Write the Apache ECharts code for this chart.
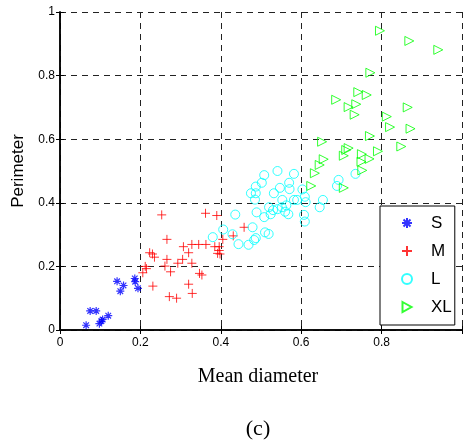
<!DOCTYPE html>
<html>
<head>
<meta charset="utf-8">
<script src="https://cdn.jsdelivr.net/npm/echarts@6/dist/echarts.min.js"></script>
<style>
  html, body { margin: 0; padding: 0; background: #fff; }
  #chart { width: 463px; height: 440px; }
</style>
</head>
<body>
<div id="chart"></div>
<script>
// [mean diameter, perimeter]
const sData = [
  [0.065, 0.015], [0.075, 0.06], [0.09, 0.06], [0.098, 0.02], [0.103, 0.028],
  [0.106, 0.033], [0.12, 0.045], [0.142, 0.153], [0.15, 0.122], [0.158, 0.14],
  [0.186, 0.162], [0.187, 0.152], [0.194, 0.131]
];
const mData = [
  [0.206, 0.18], [0.212, 0.2], [0.215, 0.193], [0.223, 0.243], [0.23, 0.239],
  [0.235, 0.229], [0.231, 0.138], [0.253, 0.362], [0.261, 0.201], [0.266, 0.285],
  [0.266, 0.222], [0.272, 0.105], [0.275, 0.183], [0.29, 0.1], [0.293, 0.21],
  [0.305, 0.222], [0.307, 0.262], [0.32, 0.243], [0.32, 0.144], [0.328, 0.21],
  [0.328, 0.269], [0.329, 0.115], [0.345, 0.269], [0.347, 0.178], [0.353, 0.173],
  [0.362, 0.367], [0.363, 0.269], [0.385, 0.262], [0.39, 0.36], [0.392, 0.241],
  [0.396, 0.262], [0.398, 0.239], [0.396, 0.25], [0.405, 0.285], [0.431, 0.296],
  [0.458, 0.323]
];
const lData = [
  [0.38, 0.292], [0.406, 0.316], [0.429, 0.301], [0.436, 0.363], [0.444, 0.27],
  [0.469, 0.268], [0.475, 0.43], [0.479, 0.323], [0.483, 0.283], [0.487, 0.289],
  [0.485, 0.41], [0.487, 0.43], [0.487, 0.451], [0.489, 0.37], [0.502, 0.463],
  [0.508, 0.487], [0.508, 0.355], [0.51, 0.307], [0.519, 0.302], [0.52, 0.386],
  [0.524, 0.364], [0.53, 0.377], [0.532, 0.43], [0.541, 0.5], [0.541, 0.38],
  [0.547, 0.447], [0.552, 0.386], [0.553, 0.409], [0.563, 0.392], [0.56, 0.372],
  [0.568, 0.364], [0.57, 0.463], [0.571, 0.443], [0.582, 0.491], [0.582, 0.409],
  [0.59, 0.409], [0.603, 0.442], [0.607, 0.362], [0.609, 0.419], [0.611, 0.402],
  [0.609, 0.341], [0.646, 0.386], [0.654, 0.409], [0.689, 0.453], [0.693, 0.472],
  [0.735, 0.491]
];
const xlData = [
  [0.625, 0.453], [0.634, 0.493], [0.646, 0.519], [0.656, 0.537], [0.652, 0.592],
  [0.687, 0.724], [0.706, 0.447], [0.706, 0.548], [0.712, 0.566], [0.718, 0.572],
  [0.718, 0.701], [0.733, 0.677], [0.737, 0.71], [0.742, 0.748], [0.751, 0.553],
  [0.75, 0.529], [0.752, 0.502], [0.763, 0.739], [0.77, 0.538], [0.771, 0.61],
  [0.772, 0.809], [0.791, 0.562], [0.796, 0.941], [0.813, 0.671], [0.821, 0.638],
  [0.849, 0.577], [0.865, 0.7], [0.869, 0.909], [0.872, 0.633], [0.941, 0.881]
];
const classNames = ["S", "M", "L", "XL"];

const starPath = "path://M5,0L5,10M0,5L10,5M1.5,1.5L8.5,8.5M1.5,8.5L8.5,1.5";
const plusPath = "path://M5,0L5,10M0,5L10,5";
const triPath = "path://M1,0L10,5L1,10Z";

const gridLine = {
  show: true,
  lineStyle: { color: "#222", width: 1, type: [6, 5] },
};
const tickLabel = { color: "#000", fontSize: 12, fontFamily: "Liberation Sans, Arial, sans-serif" };
const boxAxis = {
  type: "value", min: 0, max: 1, interval: 0.2,
  axisLine: { show: true, lineStyle: { color: "#000", width: 1.5 } },
  axisTick: { show: true, inside: true, length: 4, lineStyle: { color: "#000" } },
  axisLabel: { show: false },
  splitLine: { show: false },
};

const chart = echarts.init(document.getElementById("chart"));
const option = {
  animation: false,
  backgroundColor: "#fff",
  grid: { left: 60, right: 1, top: 12, bottom: 110, containLabel: false, outerBoundsMode: "none" },
  title: [
    {
      text: "Mean diameter",
      left: 253, top: 362, textAlign: "center",
      textStyle: { fontFamily: "Liberation Serif, Times New Roman, serif", fontSize: 20, fontWeight: "normal", color: "#000" },
    },
    {
      text: "(c)",
      left: 253, top: 413, textAlign: "center",
      textStyle: { fontFamily: "Liberation Serif, Times New Roman, serif", fontSize: 22, fontWeight: "normal", color: "#000" },
    },
  ],
  legend: {
    data: classNames,
    orient: "vertical",
    left: 380, top: 206,
    padding: [7, 3, 8, 21],
    itemWidth: 10, itemHeight: 10, itemGap: 8,
    borderColor: "#000", borderWidth: 1, borderRadius: 0,
    backgroundColor: "#fff",
    textStyle: {
      fontSize: 17, lineHeight: 20, padding: [0, 0, 0, 14],
      color: "#000", fontFamily: "Liberation Sans, Arial, sans-serif",
    },
  },
  xAxis: [
    {
      type: "value", min: 0, max: 1, interval: 0.2,
      axisLine: { show: true, onZero: false, lineStyle: { color: "#000", width: 1.5 } },
      axisTick: { show: true, inside: true, length: 4, lineStyle: { color: "#000" } },
      axisLabel: Object.assign({ margin: 7, formatter: v => (v === 1 ? "" : String(v)) }, tickLabel),
      splitLine: gridLine,
    },
    Object.assign({ position: "top" }, boxAxis),
  ],
  yAxis: [
    {
      type: "value", min: 0, max: 1, interval: 0.2,
      name: "Perimeter", nameLocation: "middle", nameGap: 33,
      nameTextStyle: { fontSize: 17, color: "#000", fontFamily: "Liberation Sans, Arial, sans-serif" },
      axisLine: { show: true, onZero: false, lineStyle: { color: "#000", width: 1.5 } },
      axisTick: { show: true, inside: true, length: 4, lineStyle: { color: "#000" } },
      axisLabel: Object.assign({ margin: 5 }, tickLabel),
      splitLine: gridLine,
    },
    Object.assign({ position: "right" }, boxAxis),
  ],
  series: [
    {
      name: "S", type: "scatter", data: sData,
      symbol: starPath, symbolSize: 8,
      itemStyle: { color: "#0000ff", borderColor: "#0000ff", borderWidth: 1.2 },
    },
    {
      name: "M", type: "scatter", data: mData,
      symbol: plusPath, symbolSize: 9,
      itemStyle: { color: "#ff0000", borderColor: "#ff0000", borderWidth: 1 },
    },
    {
      name: "L", type: "scatter", data: lData,
      symbol: "circle", symbolSize: 9,
      itemStyle: { color: "rgba(0,0,0,0)", borderColor: "#00ffff", borderWidth: 1 },
    },
    {
      name: "XL", type: "scatter", data: xlData,
      symbol: triPath, symbolSize: 9,
      itemStyle: { color: "rgba(0,0,0,0)", borderColor: "#00ff00", borderWidth: 1 },
    },
  ],
};
chart.setOption(option);
</script>
</body>
</html>
